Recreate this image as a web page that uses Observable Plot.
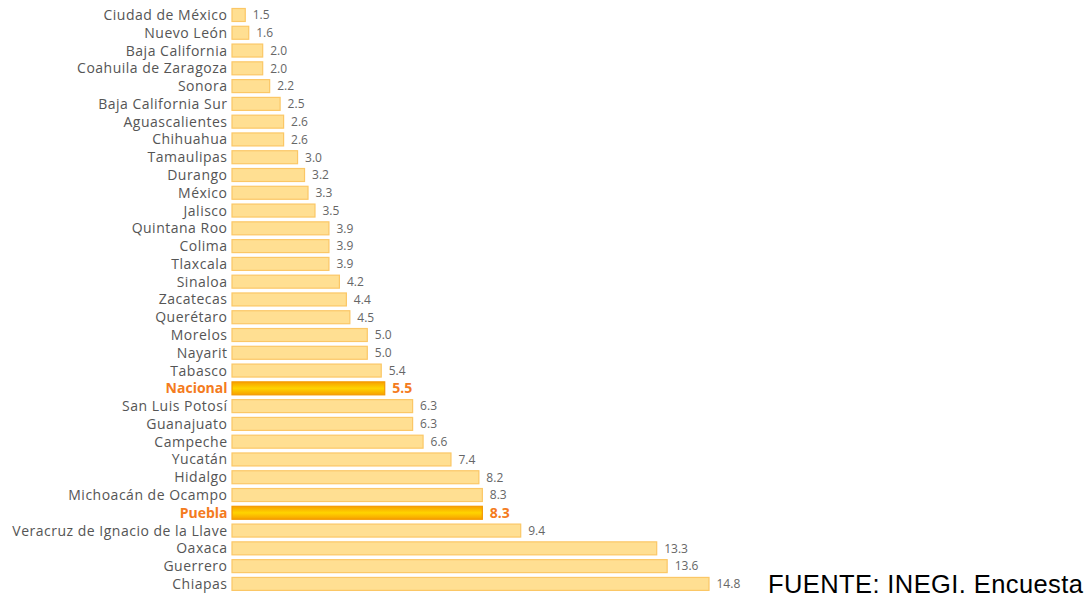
<!DOCTYPE html>
<html>
<head>
<meta charset="utf-8">
<script src="https://cdn.jsdelivr.net/npm/d3@7"></script>
<script src="https://cdn.jsdelivr.net/npm/@observablehq/plot@0.6"></script>
<style>
  html, body { margin: 0; padding: 0; background: #fff; }
  #wrap { position: relative; width: 1089px; height: 599px; overflow: hidden; }
  #fuente { position: absolute; left: 768px; top: 572px; font-family: "Liberation Sans", Arial, sans-serif; font-size: 25.5px; line-height: 1; letter-spacing: 0.4px; color: #000; white-space: nowrap; }
  .lbl text { letter-spacing: 0.5px; }
</style>
</head>
<body>
<div id="wrap"><div id="chart"></div><div id="fuente">FUENTE: INEGI. Encuesta</div></div>
<script>
const states = [
  "Ciudad de México", "Nuevo León", "Baja California", "Coahuila de Zaragoza", "Sonora",
  "Baja California Sur", "Aguascalientes", "Chihuahua", "Tamaulipas", "Durango",
  "México", "Jalisco", "Quintana Roo", "Colima", "Tlaxcala", "Sinaloa", "Zacatecas",
  "Querétaro", "Morelos", "Nayarit", "Tabasco", "Nacional", "San Luis Potosí",
  "Guanajuato", "Campeche", "Yucatán", "Hidalgo", "Michoacán de Ocampo", "Puebla",
  "Veracruz de Ignacio de la Llave", "Oaxaca", "Guerrero", "Chiapas"
];
const values = [
  1.5, 1.6, 2.0, 2.0, 2.2, 2.5, 2.6, 2.6, 3.0, 3.2, 3.3, 3.5, 3.9, 3.9, 3.9, 4.2, 4.4,
  4.5, 5.0, 5.0, 5.4, 5.5, 6.3, 6.3, 6.6, 7.4, 8.2, 8.3, 8.3, 9.4, 13.3, 13.6, 14.8
];
const highlighted = ["Nacional", "Puebla"];
const xStart = 1.12;
const xEnd = 14.8;

const data = states.map((s, i) => ({state: s, value: values[i], hi: highlighted.includes(s)}));
const normal = data.filter(d => !d.hi);
const hi = data.filter(d => d.hi);

const NS = "http://www.w3.org/2000/svg";
function defsMark() {
  const defs = document.createElementNS(NS, "defs");
  defs.innerHTML = `<linearGradient id="hiGrad" x1="0" y1="0" x2="0" y2="1">
      <stop offset="0" stop-color="#f7a000"/>
      <stop offset="0.5" stop-color="#ffd400"/>
      <stop offset="1" stop-color="#f7a000"/>
    </linearGradient>`;
  return defs;
}

const font = "'Open Sans', 'DejaVu Sans', sans-serif";

const chart = Plot.plot({
  width: 1089,
  height: 599,
  marginLeft: 232,
  marginRight: 380,
  marginTop: 3.7,
  marginBottom: 3.8,
  style: {fontFamily: font, background: "#fff"},
  x: {domain: [xStart, xEnd], axis: null},
  y: {domain: states, padding: 0.27, round: false, axis: null},
  marks: [
    defsMark,
    Plot.barX(normal, {y: "state", x1: () => xStart, x2: "value", fill: "#ffdf92", stroke: "#fbc766", strokeWidth: 1.2}),
    Plot.barX(hi, {y: "state", x1: () => xStart, x2: "value", fill: "url(#hiGrad)", stroke: "#f39a00", strokeWidth: 1.2}),
    Plot.text(normal, {y: "state", x: () => xStart, text: "state", textAnchor: "end", dx: -5, fill: "#555", fontSize: 14, className: "lbl"}),
    Plot.text(hi, {y: "state", x: () => xStart, text: "state", textAnchor: "end", dx: -5, fill: "#f47b20", fontSize: 14, fontWeight: "bold"}),
    Plot.text(normal, {y: "state", x: "value", text: d => d.value.toFixed(1), textAnchor: "start", dx: 7, fill: "#666", fontSize: 12}),
    Plot.text(hi, {y: "state", x: "value", text: d => d.value.toFixed(1), textAnchor: "start", dx: 7, fill: "#f47b20", fontSize: 14, fontWeight: "bold"})
  ]
});
document.getElementById("chart").appendChild(chart);
</script>
</body>
</html>
